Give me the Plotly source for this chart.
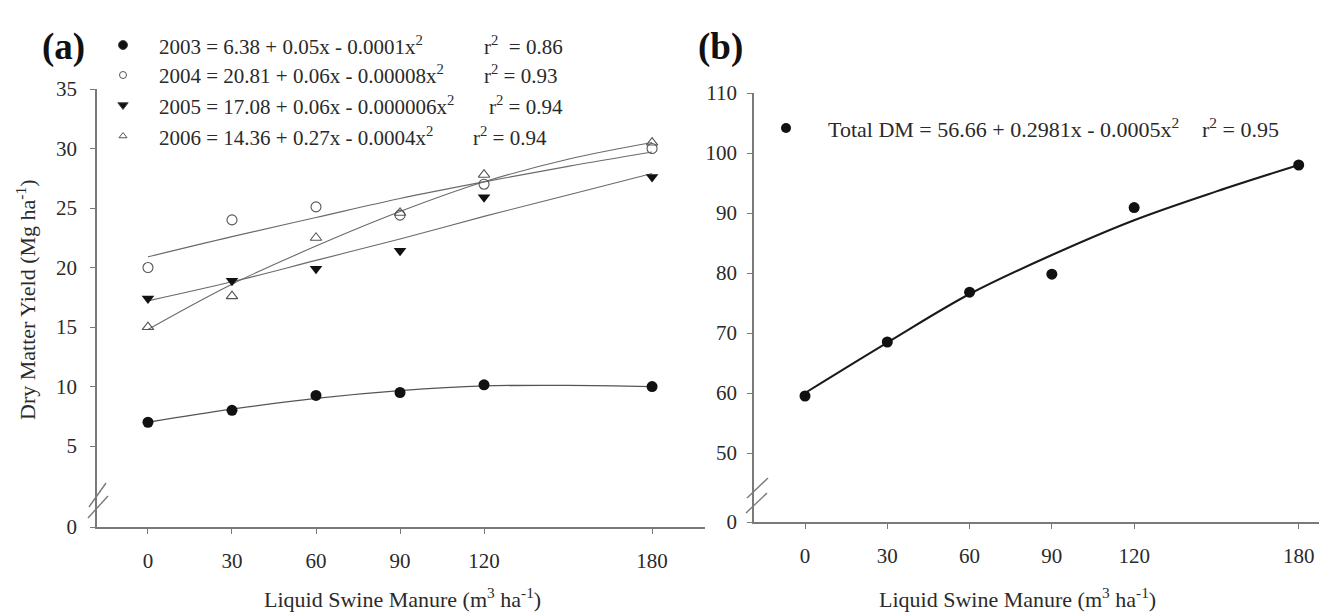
import plotly.graph_objects as go

W, H = 1319, 613

# ---------------- data ----------------
manure = [0, 30, 60, 90, 120, 180]
dm_2003 = [7.0, 8.0, 9.25, 9.5, 10.15, 10.0]
dm_2004 = [20.0, 24.0, 25.1, 24.4, 27.0, 30.0]
dm_2005 = [17.4, 18.9, 19.9, 21.4, 25.9, 27.6]
dm_2006 = [15.0, 17.6, 22.5, 24.6, 27.8, 30.5]

fit_x = [0, 30, 60, 90, 120, 150, 180]
fit_2003 = [7.0, 8.1, 9.0, 9.65, 10.05, 10.1, 10.0]
fit_2004 = [20.9, 22.6, 24.2, 25.8, 27.2, 28.5, 29.7]
fit_2005 = [17.2, 18.8, 20.6, 22.4, 24.3, 26.1, 27.9]
fit_2006 = [14.8, 18.6, 21.8, 24.7, 27.2, 29.1, 30.5]

total_dm = [59.5, 68.5, 76.8, 79.8, 90.9, 98.0]
fit_total = [60.0, 68.4, 76.5, 83.0, 88.8, 93.6, 98.0]

x_ticks = [0, 30, 60, 90, 120, 180]
ya_ticks = [-1.8, 5, 10, 15, 20, 25, 30, 35]
ya_text = ["0", "5", "10", "15", "20", "25", "30", "35"]
yb_ticks = [38.5, 50, 60, 70, 80, 90, 100, 110]
yb_text = ["0", "50", "60", "70", "80", "90", "100", "110"]

eq_a = [
    "2003 = 6.38 + 0.05x - 0.0001x<sup>2</sup>",
    "2004 = 20.81 + 0.06x - 0.00008x<sup>2</sup>",
    "2005 = 17.08 + 0.06x - 0.000006x<sup>2</sup>",
    "2006 = 14.36 + 0.27x - 0.0004x<sup>2</sup>",
]
r2_a = ["r<sup>2</sup>  = 0.86", "r<sup>2</sup> = 0.93", "r<sup>2</sup> = 0.94", "r<sup>2</sup> = 0.94"]
eq_b = "Total DM = 56.66 + 0.2981x - 0.0005x<sup>2</sup>"
r2_b = "r<sup>2</sup> = 0.95"

FONT = "Liberation Serif"
TXT = "#2a2a2a"
AX = "#7a7a7a"

def px(x):
    return x / W

def py(y):
    return 1 - y / H

fig = go.Figure()

# ---------------- panel (a) ----------------
line_a = dict(color="#6a6a6a", width=1.1)
for fy in [fit_2004, fit_2005, fit_2006]:
    fig.add_trace(go.Scatter(x=fit_x, y=fy, mode="lines", line=dict(shape="spline", **line_a),
                             xaxis="x", yaxis="y", showlegend=False, hoverinfo="skip"))
fig.add_trace(go.Scatter(x=fit_x, y=fit_2003, mode="lines", line=dict(shape="spline", color="#555", width=1.3),
                         xaxis="x", yaxis="y", showlegend=False, hoverinfo="skip"))

fig.add_trace(go.Scatter(x=manure, y=dm_2004, mode="markers", xaxis="x", yaxis="y", showlegend=False,
                         marker=dict(symbol="circle-open", size=10, color="#555", line=dict(width=1.1))))
fig.add_trace(go.Scatter(x=manure, y=dm_2006, mode="markers", xaxis="x", yaxis="y", showlegend=False,
                         marker=dict(symbol="triangle-up-open", size=10, color="#555", line=dict(width=1.1))))
fig.add_trace(go.Scatter(x=manure, y=dm_2005, mode="markers", xaxis="x", yaxis="y", showlegend=False,
                         marker=dict(symbol="triangle-down", size=11, color="#111")))
fig.add_trace(go.Scatter(x=manure, y=dm_2003, mode="markers", xaxis="x", yaxis="y", showlegend=False,
                         marker=dict(symbol="circle", size=11, color="#111")))

# ---------------- panel (b) ----------------
fig.add_trace(go.Scatter(x=fit_x, y=fit_total, mode="lines", xaxis="x2", yaxis="y2", showlegend=False,
                         line=dict(shape="spline", color="#1a1a1a", width=2), hoverinfo="skip"))
fig.add_trace(go.Scatter(x=manure, y=total_dm, mode="markers", xaxis="x2", yaxis="y2", showlegend=False,
                         marker=dict(symbol="circle", size=11, color="#111")))

# ---------------- key symbols (pixel overlay) ----------------
key_x = [123, 123, 123, 123]
key_y = [45, 75, 105, 136]
key_sym = ["circle", "circle-open", "triangle-down", "triangle-up-open"]
key_size = [9, 7, 9, 7]
key_col = ["#111", "#555", "#111", "#555"]
for kx, ky, ks, kz, kc in zip(key_x, key_y, key_sym, key_size, key_col):
    fig.add_trace(go.Scatter(x=[kx], y=[ky], mode="markers", xaxis="x3", yaxis="y3", showlegend=False,
                             hoverinfo="skip",
                             marker=dict(symbol=ks, size=kz, color=kc, line=dict(width=1))))
fig.add_trace(go.Scatter(x=[786], y=[128], mode="markers", xaxis="x3", yaxis="y3", showlegend=False,
                         hoverinfo="skip", marker=dict(symbol="circle", size=10, color="#111")))

axis_common = dict(showline=True, linecolor=AX, linewidth=1.5, ticks="outside", ticklen=5,
                   tickcolor=AX, tickwidth=1.2, showgrid=False, zeroline=False, automargin=False,
                   tickfont=dict(family=FONT, size=21, color=TXT))

fig.update_layout(
    template="none",
    width=W, height=H,
    margin=dict(l=0, r=0, t=0, b=0, pad=0),
    paper_bgcolor="white", plot_bgcolor="rgba(0,0,0,0)",
    showlegend=False,
    xaxis=dict(domain=[px(97), px(705)], range=[-18.2, 198.9], tickvals=x_ticks, anchor="y",
               ticklabelstandoff=9, **axis_common),
    yaxis=dict(domain=[py(527), py(89)], range=[-1.8, 35], tickvals=ya_ticks, ticktext=ya_text,
               anchor="x", ticklabelstandoff=9, **axis_common),
    xaxis2=dict(domain=[px(754), 1.0], range=[-18.6, 187.4], tickvals=x_ticks, anchor="y2",
                ticklabelstandoff=9, **axis_common),
    yaxis2=dict(domain=[py(522), py(93)], range=[38.5, 110], tickvals=yb_ticks, ticktext=yb_text,
                anchor="x2", ticklabelstandoff=6, **axis_common),
    xaxis3=dict(domain=[0, 1], range=[0, W], visible=False, anchor="y3", fixedrange=True, automargin=False),
    yaxis3=dict(domain=[0, 1], range=[H, 0], visible=False, anchor="x3", fixedrange=True, automargin=False),
)

annos = []
annos.append(dict(x=px(63), y=py(47), text="<b>(a)</b>", font=dict(family=FONT, size=37, color="#111")))
annos.append(dict(x=px(720), y=py(47), text="<b>(b)</b>", font=dict(family=FONT, size=37, color="#111")))
for t, yy in zip(eq_a, key_y):
    annos.append(dict(x=px(157), y=py(yy), text=t, xanchor="left", font=dict(family=FONT, size=21, color=TXT)))
r2_x = [482, 482, 487, 471]
for t, xx, yy in zip(r2_a, r2_x, key_y):
    annos.append(dict(x=px(xx), y=py(yy), text=t, xanchor="left", font=dict(family=FONT, size=21, color=TXT)))
annos.append(dict(x=px(826), y=py(128), text=eq_b, xanchor="left", font=dict(family=FONT, size=22, color=TXT)))
annos.append(dict(x=px(1200), y=py(128), text=r2_b, xanchor="left", font=dict(family=FONT, size=22, color=TXT)))
annos.append(dict(x=px(402), y=py(598), text="Liquid Swine Manure (m<sup>3</sup> ha<sup>-1</sup>)",
                  font=dict(family=FONT, size=22, color=TXT)))
annos.append(dict(x=px(1017), y=py(598), text="Liquid Swine Manure (m<sup>3</sup> ha<sup>-1</sup>)",
                  font=dict(family=FONT, size=22, color=TXT)))
annos.append(dict(x=px(26), y=py(300), text="Dry Matter Yield (Mg ha<sup>-1</sup>)", textangle=-90,
                  font=dict(family=FONT, size=22, color=TXT)))
for a in annos:
    a.setdefault("xref", "paper")
    a.setdefault("yref", "paper")
    a.setdefault("xanchor", "center")
    a.setdefault("yanchor", "middle")
    a.setdefault("showarrow", False)
fig.update_layout(annotations=annos)

# axis-break marks
shapes = []
for (x0, y0, x1, y1) in [(89, 507, 106, 483), (88, 518, 108, 496),
                         (747, 498, 768, 478), (746, 513, 767, 493)]:
    shapes.append(dict(type="line", xref="x3", yref="y3", x0=x0, y0=y0, x1=x1, y1=y1,
                       line=dict(color=AX, width=1.4)))
fig.update_layout(shapes=shapes)

fig.write_html("out.html", config={"displayModeBar": False},
               post_script="document.body.style.margin='0';document.body.style.overflow='hidden';")
